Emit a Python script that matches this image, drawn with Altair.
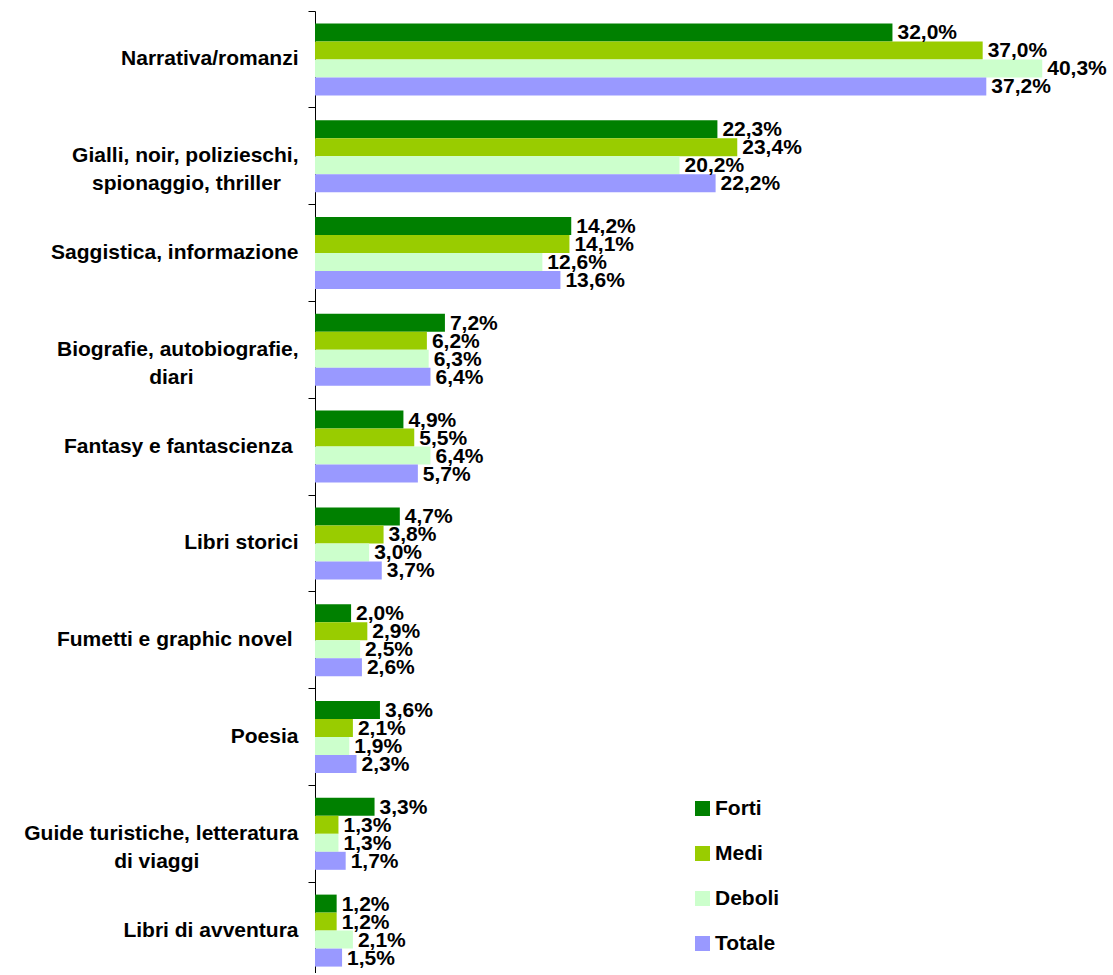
import altair as alt
import pandas as pd

# Reading genres, in display order ("|" marks a line break in the axis label;
# the non-breaking spaces before the closing zero-width space keep the short
# second line roughly centred under the first)
NB = "\u00a0"
END = "\u200b"
categories = [
    "Narrativa/romanzi",
    "Gialli, noir, polizieschi,|spionaggio, thriller" + NB * 3 + END,
    "Saggistica, informazione",
    "Biografie, autobiografie,|diari" + NB * 18 + END,
    "Fantasy e fantascienza" + NB + END,
    "Libri storici",
    "Fumetti e graphic novel" + NB + END,
    "Poesia",
    "Guide turistiche, letteratura|di viaggi" + NB * 17 + END,
    "Libri di avventura",
]

series = ["Forti", "Medi", "Deboli", "Totale"]
colors = ["#008000", "#99CC00", "#CCFFCC", "#9999FF"]

# Share of readers (%) per genre, one list per reader group
forti = [32.0, 22.3, 14.2, 7.2, 4.9, 4.7, 2.0, 3.6, 3.3, 1.2]
medi = [37.0, 23.4, 14.1, 6.2, 5.5, 3.8, 2.9, 2.1, 1.3, 1.2]
deboli = [40.3, 20.2, 12.6, 6.3, 6.4, 3.0, 2.5, 1.9, 1.3, 2.1]
totale = [37.2, 22.2, 13.6, 6.4, 5.7, 3.7, 2.6, 2.3, 1.7, 1.5]

rows = []
for name, values in zip(series, [forti, medi, deboli, totale]):
    for cat, v in zip(categories, values):
        rows.append({"genere": cat, "gruppo": name, "valore": v})
df = pd.DataFrame(rows)

FONT = "Liberation Sans"
FS = 21

y_enc = alt.Y(
    "genere:N",
    sort=categories,
    scale=alt.Scale(paddingInner=0, paddingOuter=0, range=[0, 968]),
    axis=alt.Axis(
        title=None,
        bandPosition=0,
        labelExpr="split(datum.value, '|')",
        labelFont=FONT,
        labelFontSize=FS,
        labelFontWeight="bold",
        labelColor="#000000",
        labelLineHeight=28,
        labelPadding=10,
        labelBaseline="middle",
        labelLimit=400,
        tickSize=7,
        tickColor="#000000",
        domainColor="#000000",
        grid=False,
    ),
)
yoff_enc = alt.YOffset(
    "gruppo:N",
    sort=series,
    scale=alt.Scale(paddingInner=0, paddingOuter=0.689),
)
x_enc = alt.X(
    "valore:Q",
    scale=alt.Scale(domain=[0, 44], nice=False, zero=True),
    axis=None,
)

bars = alt.Chart(df).mark_bar(size=18).encode(
    y=y_enc,
    yOffset=yoff_enc,
    x=x_enc,
    color=alt.Color(
        "gruppo:N",
        sort=series,
        scale=alt.Scale(domain=series, range=colors),
        legend=alt.Legend(
            title=None,
            orient="none",
            legendX=377,
            legendY=787,
            symbolType="square",
            symbolSize=225,
            symbolStrokeWidth=0,
            labelFont=FONT,
            labelFontSize=FS,
            labelFontWeight="bold",
            labelColor="#000000",
            labelOffset=2,
            rowPadding=23,
            padding=0,
        ),
    ),
)

labels = alt.Chart(df).transform_calculate(
    testo="replace(format(datum.valore, '.1f'), '.', ',') + '%'"
).mark_text(
    align="left",
    baseline="middle",
    dx=5,
    dy=1,
    font=FONT,
    fontSize=FS,
    fontWeight="bold",
    color="#000000",
).encode(
    y=alt.Y("genere:N", sort=categories),
    yOffset=alt.YOffset("gruppo:N", sort=series),
    x=alt.X("valore:Q"),
    text="testo:N",
)

chart = (
    alt.layer(bars, labels)
    .properties(
        width=794,
        height=960,
        autosize=alt.AutoSizeParams(type="none"),
        padding={"left": 315, "top": 11, "right": 4, "bottom": 2},
        background="#ffffff",
    )
    .configure_view(stroke=None)
)

chart.save("out.html", embed_options={"renderer": "svg", "actions": False})
